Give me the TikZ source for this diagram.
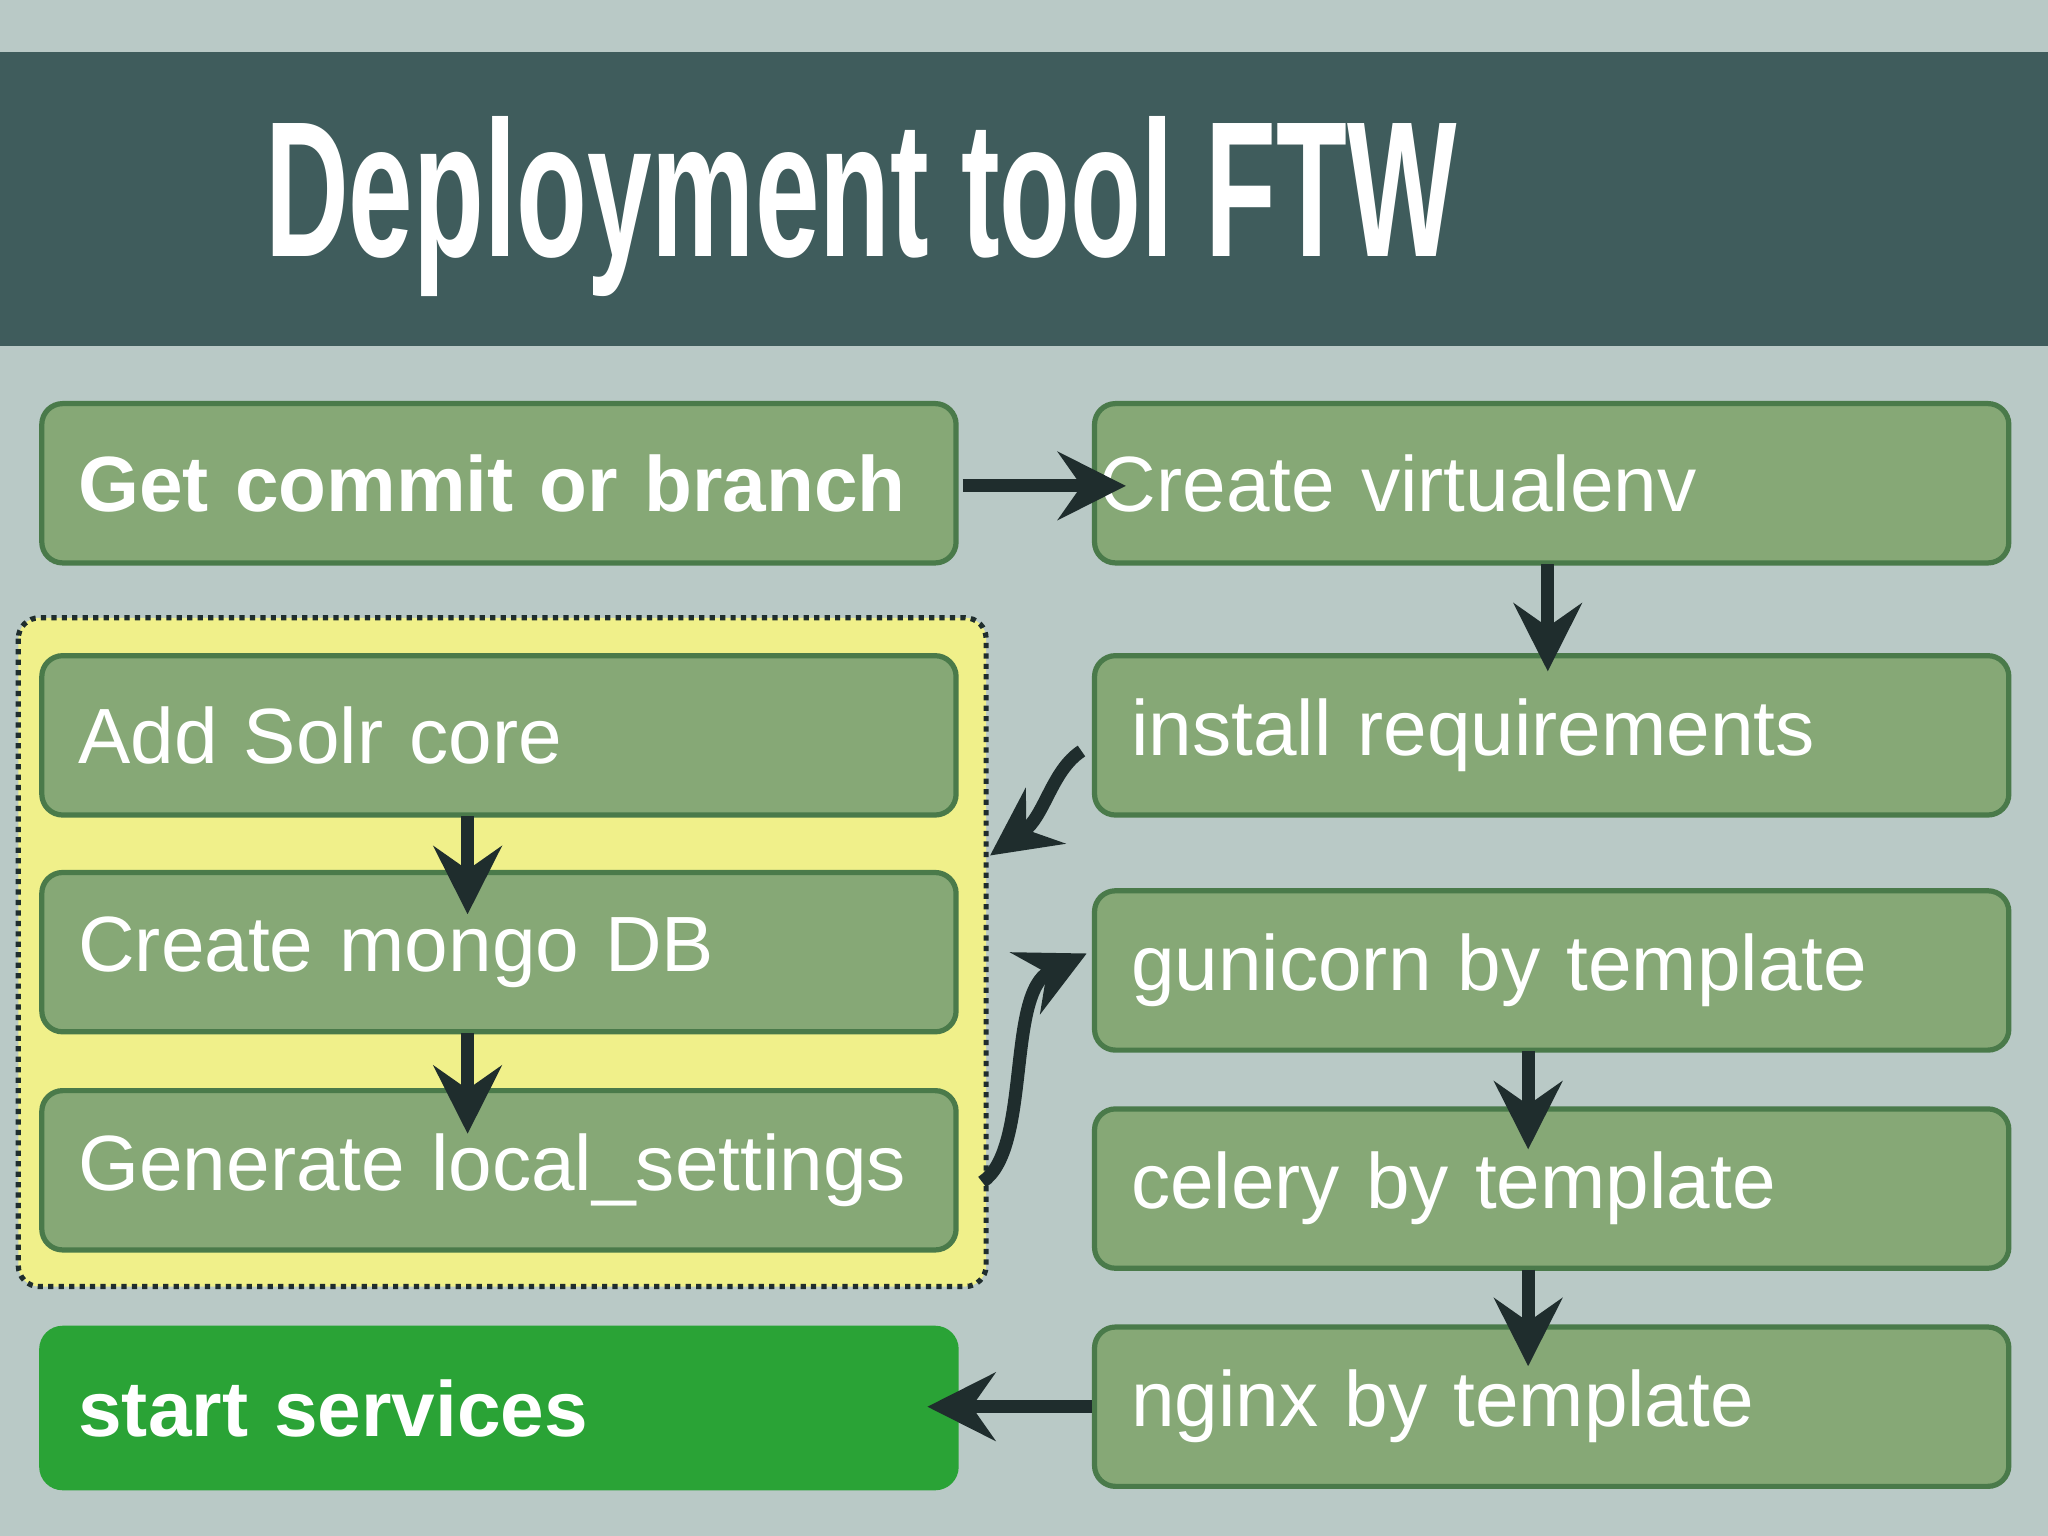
\documentclass[tikz,border=0pt]{standalone}
\usepackage{fontspec}
\setmainfont{Liberation Sans}
\usetikzlibrary{arrows.meta}
\definecolor{bg}{HTML}{B9C9C6}
\definecolor{band}{HTML}{3F5C5C}
\definecolor{boxf}{HTML}{86A876}
\definecolor{boxd}{HTML}{4A7A4A}
\definecolor{startf}{HTML}{2AA336}
\definecolor{hl}{HTML}{F0F08A}
\definecolor{arr}{HTML}{1F2D2D}
\begin{document}
\begin{tikzpicture}[x=0.5pt,y=-0.5pt,
  box/.style={draw=boxd,line width=2pt,fill=boxf,rounded corners=8pt,minimum width=350pt,minimum height=61pt,text width=322pt,align=left,anchor=north west,text=white,font=\fontsize{30}{34}\selectfont,inner xsep=14pt},
  ar/.style={draw=arr,line width=5pt,-{Stealth[length=26pt,width=26pt,inset=9pt]}}]
\useasboundingbox (0,0) rectangle (1568,1176);
\fill[bg] (0,0) rectangle (1568,1176);
\fill[band] (0,40) rectangle (1568,265);
\node[text=white,font=\fontsize{74}{80}\selectfont\bfseries,anchor=west] (title) at (196,158) {\scalebox{0.6}[1]{Deployment tool FTW}};
\fill[hl,rounded corners=8pt] (14,473) rectangle (755,985);
\draw[arr,line width=2pt,dotted,rounded corners=8pt] (14,473) rectangle (755,985);
% left column
\node[box,font=\fontsize{30}{34}\selectfont\bfseries] (get) at (30,307) {Get commit or branch};
\node[box] (solr) at (30,500) {Add Solr core};
\node[box] (mongo) at (30,666) {Create mongo DB};
\node[box] (gen) at (30,833) {Generate local\_settings};
\node[box,fill=startf,draw=startf,font=\fontsize{30}{34}\selectfont\bfseries] (start) at (30,1015) {start services};
% right column
\node[box] (venv) at (836,307) {\hspace*{-12pt}Create virtualenv};
\node[box] (inst) at (836,500) {install requirements};
\node[box] (guni) at (836,680) {gunicorn by template};
\node[box] (cel) at (836,847) {celery by template};
\node[box] (ngx) at (836,1014) {nginx by template};
\coordinate (hlc) at (758,655);
\coordinate (getE) at (737,372);
\coordinate (ngxW) at (836,1077);
% arrows
\draw[ar] (getE) -- (862,372);
\draw[ar] (1185,432) -- (1185,514);
\draw[ar] (828,575) .. controls (805,590) and (800,625) .. (hlc);
\draw[ar] (358,625) -- (358,700);
\draw[ar] (358,791) -- (358,868);
\draw[ar] (752,905) .. controls (790,880) and (770,760) .. (832,730);
\draw[ar] (1170,805) -- (1170,880);
\draw[ar] (1170,972) -- (1170,1046);
\draw[ar] (ngxW) -- (710,1077);
\end{tikzpicture}
\end{document}
